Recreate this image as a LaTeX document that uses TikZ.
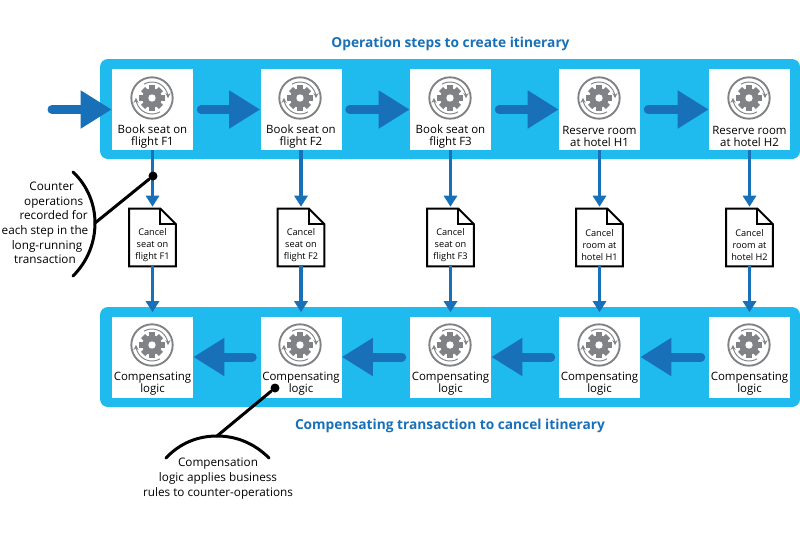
\documentclass[tikz,border=0pt]{standalone}
\usepackage{fontspec}
\setmainfont{Open Sans}
\usetikzlibrary{arrows.meta}

\definecolor{panelblue}{RGB}{32,187,238}
\definecolor{arrowblue}{RGB}{24,112,184}
\definecolor{icongray}{RGB}{128,130,133}

\tikzset{
    panel/.style={fill=panelblue,rounded corners=6pt},
    stepbox/.style={fill=white,minimum width=60.75pt,minimum height=60.75pt,inner sep=0pt},
    steptext/.style={align=center,inner sep=0.75pt,font=\fontsize{8.6}{9}\selectfont},
    docnode/.style={fill=white,minimum width=34.5pt,minimum height=42.75pt,inner sep=0pt},
    doctext/.style={align=center,inner sep=0.75pt,font=\fontsize{6.9}{9}\selectfont},
    docline/.style={line width=1.5pt,line join=miter},
    title/.style={inner sep=0.75pt,text=arrowblue,font=\fontsize{10.3}{12}\selectfont\bfseries},
    note/.style={align=center,inner sep=0.75pt,font=\fontsize{8.8}{11}\selectfont},
    flow/.style={arrowblue,line width=6.75pt,line cap=round,shorten <=6pt,-{Triangle[length=23.25pt,width=27pt]}},
    link/.style={arrowblue,line width=2.5pt,-{Triangle[length=8.25pt,width=9.75pt]}},
    noteline/.style={line width=2.25pt,line cap=round},
    notedot/.style={circle,fill=black,minimum size=6.75pt,inner sep=0pt},
    gearicon/.pic={
        \draw [icongray,line width=1.4pt] (0,0) circle (20.7);
        \foreach \a in {0,45,...,315} {
            \fill [icongray,rotate=\a] (-3,-12.7) rectangle (3,0);
        }
        \fill [icongray] (0,0) circle (9.7);
        \fill [white] (0,0) circle (3.7);
        \draw [icongray,line width=0.7pt,-{Stealth[length=3.6pt,width=3.8pt]}] (300:16) arc[start angle=300,end angle=180,radius=16];
        \draw [icongray,line width=0.7pt,-{Stealth[length=3.6pt,width=3.8pt]}] (120:16) arc[start angle=120,end angle=0,radius=16];
    },
}

\newcommand{\docsheet}[1]{%
    \draw [docline] (#1.north west) -- ([xshift=-11.5pt]#1.north east) -- ([yshift=11.5pt]#1.north east) -- (#1.south east) -- (#1.south west) -- cycle;
    \draw [docline] ([xshift=-11.5pt]#1.north east) -- ([xshift=-11.5pt,yshift=11.5pt]#1.north east) -- ([yshift=11.5pt]#1.north east);
}

\begin{document}
\begin{tikzpicture}[x=0.75pt,y=0.75pt,yscale=-1,xscale=1]
    \useasboundingbox (0,0) rectangle (800,533);

    % Panels
    \fill [panel] (100,59) rectangle (800,159);
    \fill [panel] (100,307) rectangle (800,407);

    % Upper row
    \node [stepbox] (book1) at (152.5,109.5) {};
    \node [stepbox] (book2) at (301,109.5) {};
    \node [stepbox] (book3) at (450.5,109.5) {};
    \node [stepbox] (book4) at (599.5,109.5) {};
    \node [stepbox] (book5) at (749.5,109.5) {};
    % Lower row
    \node [stepbox] (comp1) at (152.5,357) {};
    \node [stepbox] (comp2) at (301,357) {};
    \node [stepbox] (comp3) at (450.5,357) {};
    \node [stepbox] (comp4) at (599.5,357) {};
    \node [stepbox] (comp5) at (749.5,357) {};

    % Icons
    \pic at (152,98) {gearicon};
    \pic at (300,98) {gearicon};
    \pic at (450,98) {gearicon};
    \pic at (599,98) {gearicon};
    \pic at (749,98) {gearicon};
    \pic at (152,345) {gearicon};
    \pic at (300,345) {gearicon};
    \pic at (450,345) {gearicon};
    \pic at (599,345) {gearicon};
    \pic at (749,345) {gearicon};

    % Text Node
    \node [steptext] (booktext1) at (152.5,136.5) {Book seat on\\flight F1};
    \node [steptext] (booktext2) at (301,136.5) {Book seat on\\flight F2};
    \node [steptext] (booktext3) at (450.5,136.5) {Book seat on\\flight F3};
    \node [steptext] (booktext4) at (599.5,136.5) {Reserve room\\at hotel H1};
    \node [steptext] (booktext5) at (749.5,136.5) {Reserve room\\at hotel H2};
    \node [steptext] (comptext1) at (152.5,384) {Compensating\\logic};
    \node [steptext] (comptext2) at (301,384) {Compensating\\logic};
    \node [steptext] (comptext3) at (450.5,384) {Compensating\\logic};
    \node [steptext] (comptext4) at (599.5,384) {Compensating\\logic};
    \node [steptext] (comptext5) at (749.5,384) {Compensating\\logic};

    % Documents
    \node [docnode] (cancel1) at (152.5,237.5) {};
    \node [docnode] (cancel2) at (301,237.5) {};
    \node [docnode] (cancel3) at (450.5,237.5) {};
    \node [docnode] (cancel4) at (599.5,237.5) {};
    \node [docnode] (cancel5) at (749.5,237.5) {};
    \docsheet{cancel1}
    \docsheet{cancel2}
    \docsheet{cancel3}
    \docsheet{cancel4}
    \docsheet{cancel5}
    \node [doctext] (canceltext1) at (152.5,245) {Cancel\\seat on\\flight F1};
    \node [doctext] (canceltext2) at (301,245) {Cancel\\seat on\\flight F2};
    \node [doctext] (canceltext3) at (450.5,245) {Cancel\\seat on\\flight F3};
    \node [doctext] (canceltext4) at (599.5,245) {Cancel\\room at\\hotel H1};
    \node [doctext] (canceltext5) at (749.5,245) {Cancel\\room at\\hotel H2};

    % Big arrows
    \coordinate (start) at (52,109.5);
    \draw [flow,shorten <=0pt] (start) -- (book1.west);
    \draw [flow] (book1.east) -- (book2.west);
    \draw [flow] (book2.east) -- (book3.west);
    \draw [flow] (book3.east) -- (book4.west);
    \draw [flow] (book4.east) -- (book5.west);
    \draw [flow] (comp2.west) -- (comp1.east);
    \draw [flow] (comp3.west) -- (comp2.east);
    \draw [flow] (comp4.west) -- (comp3.east);
    \draw [flow] (comp5.west) -- (comp4.east);

    % Thin arrows
    \draw [link,shorten >=1.5pt] (book1.south) -- (cancel1.north);
    \draw [link,shorten >=1.5pt] (book2.south) -- (cancel2.north);
    \draw [link,shorten >=1.5pt] (book3.south) -- (cancel3.north);
    \draw [link,shorten >=1.5pt] (book4.south) -- (cancel4.north);
    \draw [link,shorten >=1.5pt] (book5.south) -- (cancel5.north);
    \draw [link,shorten >=3pt] (cancel1.south) -- (comp1.north);
    \draw [link,shorten >=3pt] (cancel2.south) -- (comp2.north);
    \draw [link,shorten >=3pt] (cancel3.south) -- (comp3.north);
    \draw [link,shorten >=3pt] (cancel4.south) -- (comp4.north);
    \draw [link,shorten >=3pt] (cancel5.south) -- (comp5.north);

    % Titles
    \node [title] (toptitle) at (450.5,43.5) {Operation steps to create itinerary};
    \node [title] (bottomtitle) at (450,425.5) {Compensating transaction to cancel itinerary};

    % Left note
    \node [notedot] (leftdot) at (153,176) {};
    \coordinate (lefttop) at (73,172);
    \coordinate (leftmid) at (95,223);
    \coordinate (leftend) at (73,276);
    \draw [noteline] (lefttop) .. controls (88,186) and (95,205) .. (leftmid) .. controls (95,242) and (88,261) .. (leftend);
    \draw [noteline] (leftmid) -- (leftdot);
    \node [note] (lefttext) at (45,223) {\hspace*{10pt}Counter\\\hspace*{13pt}operations\\\hspace*{13pt}recorded for\\each step in the\\\hspace*{3pt}long-running\\transaction};

    % Bottom note
    \node [notedot] (bottomdot) at (275,388) {};
    \coordinate (bottomleft) at (166,458);
    \coordinate (bottommid) at (217,436);
    \coordinate (bottomright) at (269,458);
    \draw [noteline] (bottomleft) .. controls (180,443) and (198,436) .. (bottommid) .. controls (236,436) and (254,443) .. (bottomright);
    \draw [noteline] (bottommid) -- (bottomdot);
    \node [note] (bottomtext) at (218,478.5) {Compensation\\logic applies business\\rules to counter-operations};
\end{tikzpicture}
\end{document}
